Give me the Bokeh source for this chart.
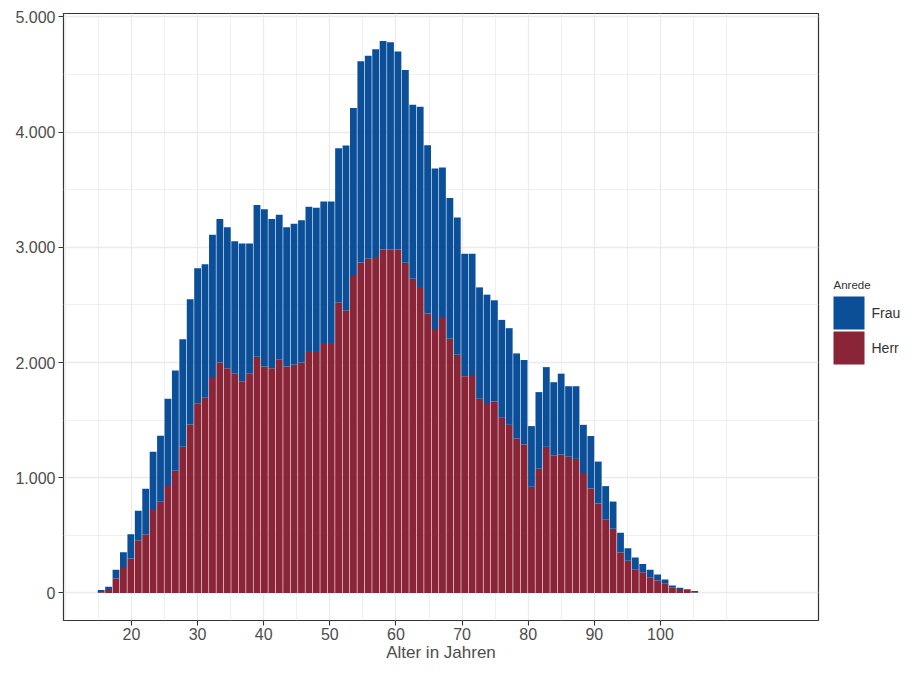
import numpy as np
from bokeh.plotting import figure
from bokeh.layouts import row
from bokeh.models import Range1d, FixedTicker, ColumnDataSource
from bokeh.core.properties import value
from bokeh.embed import file_html
from bokeh.resources import INLINE

# Histogram of age (81 bins), stacked by "Anrede"
herr = [5, 25, 125, 216, 299, 458, 509, 720, 791, 927, 1061, 1268, 1462, 1647,
        1695, 1866, 1999, 1951, 1903, 1837, 1903, 2051, 1965, 1951, 2028, 1965,
        1980, 2000, 2100, 2100, 2169, 2169, 2522, 2453, 2750, 2869, 2900, 2916,
        2980, 2980, 2980, 2866, 2726, 2655, 2425, 2291, 2387, 2207, 2067, 1881,
        1891, 1685, 1648, 1660, 1520, 1459, 1340, 1288, 921, 1078, 1268, 1192,
        1201, 1183, 1163, 1041, 907, 776, 634, 557, 350, 279, 202, 179, 131, 108,
        80, 45, 26, 26, 3]
frau = [20, 29, 77, 137, 210, 256, 395, 506, 574, 759, 870, 933, 1086, 1171,
        1157, 1242, 1246, 1223, 1149, 1195, 1129, 1316, 1365, 1294, 1254, 1209,
        1225, 1235, 1253, 1244, 1228, 1228, 1337, 1431, 1459, 1747, 1762, 1803,
        1810, 1800, 1720, 1672, 1511, 1566, 1461, 1392, 1306, 1222, 1191, 1063,
        1053, 967, 941, 880, 850, 839, 739, 734, 527, 665, 692, 637, 702, 611,
        631, 418, 455, 364, 293, 236, 173, 108, 105, 71, 71, 51, 37, 20, 19, 5, 14]
bin_start = 14.9      # left edge of first bin (years)
bin_width = 1.122     # bin width (years)

x_ticks = [20, 30, 40, 50, 60, 70, 80, 90, 100]
x_minor = [10, 15, 25, 35, 45, 55, 65, 75, 85, 95, 105, 110]
y_ticks = [0, 1000, 2000, 3000, 4000, 5000]
y_tick_labels = ["0", "1.000", "2.000", "3.000", "4.000", "5.000"]
y_minor = [500, 1500, 2500, 3500, 4500]
categories = ["Frau", "Herr"]
colors = {"Frau": "#0A4F98", "Herr": "#8A2537"}
legend_title = "Anrede"
x_title = "Alter in Jahren"

FONT = "Liberation Sans"
H = 664
TOP, BOTTOM = 13, 44

n = len(herr)
herr_a = np.array(herr, dtype=float)
tot_a = herr_a + np.array(frau, dtype=float)
left = bin_start + np.arange(n) * bin_width
gap = 0.09
src = ColumnDataSource(dict(left=left, right=left + bin_width - gap,
                            herr=herr_a, total=tot_a, zero=np.zeros(n)))

p = figure(width=826, height=H, output_backend="svg", toolbar_location=None,
           x_range=Range1d(9.72, 123.9), y_range=Range1d(-239.5, 5029.5),
           min_border_left=63, min_border_right=8, min_border_top=TOP,
           min_border_bottom=BOTTOM)
p.background_fill_color = "white"
p.border_fill_color = "white"
p.outline_line_color = "#333333"
p.outline_line_width = 1.2

p.quad(left="left", right="right", bottom="zero", top="herr", source=src,
       fill_color=colors["Herr"], line_color=None)
p.quad(left="left", right="right", bottom="herr", top="total", source=src,
       fill_color=colors["Frau"], line_color=None)

# grids
p.xgrid.ticker = FixedTicker(ticks=x_ticks, minor_ticks=x_minor)
p.ygrid.ticker = FixedTicker(ticks=y_ticks, minor_ticks=y_minor)
for g in (p.xgrid, p.ygrid):
    g.grid_line_color = "#EBEBEB"
    g.grid_line_width = 1.3
    g.minor_grid_line_color = "#EBEBEB"
    g.minor_grid_line_width = 0.8
    g.level = "underlay"

# axes
p.xaxis.ticker = FixedTicker(ticks=x_ticks)
p.yaxis.ticker = FixedTicker(ticks=y_ticks)
p.yaxis.major_label_overrides = {t: l for t, l in zip(y_ticks, y_tick_labels)}
p.xaxis.axis_label = x_title
for ax in (p.xaxis, p.yaxis):
    ax.axis_line_color = None
    ax.major_tick_line_color = "#333333"
    ax.major_tick_line_width = 1.1
    ax.major_tick_out = 5
    ax.major_tick_in = 0
    ax.minor_tick_line_color = None
    ax.major_label_text_font = FONT
    ax.major_label_text_font_size = "16px"
    ax.major_label_text_color = "#4D4D4D"
    ax.axis_label_text_font = FONT
    ax.axis_label_text_font_size = "17px"
    ax.axis_label_text_font_style = "normal"
    ax.axis_label_text_color = "#4D4D4D"
p.xaxis.major_label_standoff = 2
p.xaxis.axis_label_standoff = 0
p.yaxis.major_label_standoff = 3

# legend as a small companion figure; its frame is aligned with the main
# frame by the row layout, so the y range is set to page pixels
lg = figure(width=76, height=H, output_backend="svg", toolbar_location=None,
            x_range=Range1d(0, 76), y_range=Range1d(H - BOTTOM, TOP),
            x_axis_type=None, y_axis_type=None,
            min_border_left=0, min_border_right=0, min_border_top=TOP,
            min_border_bottom=BOTTOM, outline_line_color=None)
lg.grid.visible = False
lg.background_fill_color = "white"
lg.border_fill_color = "white"

key_x0, key_w, key_h, key_gap, key_top = 7, 31, 33, 2, 296
tops = [key_top + i * (key_h + key_gap) for i in range(len(categories))]
lg.quad(left=[key_x0] * len(categories), right=[key_x0 + key_w] * len(categories),
        top=tops, bottom=[t + key_h for t in tops],
        fill_color=[colors[c] for c in categories], line_color=None)
lg.text(x=[key_x0 + key_w + 7] * len(categories), y=[t + key_h / 2 for t in tops],
        text=categories, text_font=value(FONT), text_font_size="14px",
        text_color="#333333", text_baseline="middle", text_align="left")
lg.text(x=[key_x0], y=[key_top - 12], text=[legend_title], text_font=value(FONT),
        text_font_size="11.5px", text_color="#333333", text_baseline="middle",
        text_align="left")

layout = row(p, lg, spacing=0)
open("out.html", "w").write(file_html(layout, INLINE))
